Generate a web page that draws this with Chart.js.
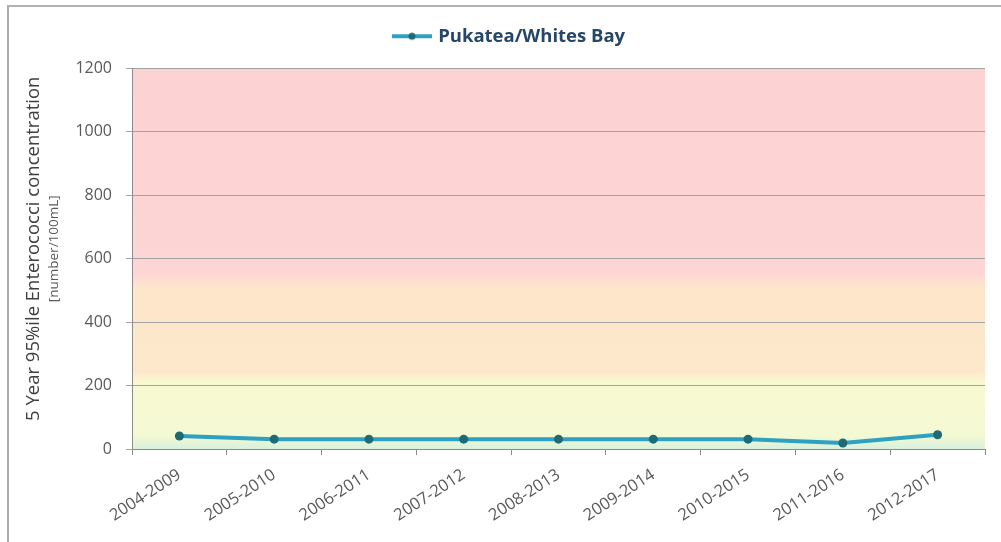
<!DOCTYPE html>
<html>
<head>
<meta charset="utf-8">
<script src="https://cdn.jsdelivr.net/npm/chart.js@4/dist/chart.umd.min.js"></script>
<style>
  html, body { margin: 0; padding: 0; background: #fff; }
  #wrap { position: relative; width: 1001px; height: 542px; overflow: hidden; }
  #chart { position: absolute; left: 0; top: 0; }
  #frame {
    position: absolute; left: 7px; top: 5px; width: 1000px; height: 535px;
    border-left: 2px solid #ababab; border-top: 2px solid #b3b3b3; border-bottom: 1px solid #dcdcdc;
    pointer-events: none;
  }
</style>
</head>
<body>
<div id="wrap">
  <canvas id="chart" width="1001" height="542"></canvas>
  <div id="frame"></div>
</div>
<script>
// 5 year rolling periods and the 95th percentile Enterococci values
const periods = ['2004-2009', '2005-2010', '2006-2011', '2007-2012', '2008-2013',
                 '2009-2014', '2010-2015', '2011-2016', '2012-2017'];
const enterococci = [41, 31, 31, 31, 31, 31, 31, 19, 45];
const siteName = 'Pukatea/Whites Bay';

// y axis range and the guideline band edges (number/100mL)
const yMin = 0;
const yMax = 1200;
const yStep = 200;
const bandEdges = [0, 40, 225, 530, 1200];

const yTitle = '5 Year 95%ile Enterococci concentration';
const ySubTitle = '[number/100mL]';

const lineColour = '#2ea0c1';
const dotColour = '#1e6b76';

// legend marker: short line with a dot in the middle
function legendMarker() {
  const c = document.createElement('canvas');
  c.width = 40;
  c.height = 10;
  const g = c.getContext('2d');
  g.strokeStyle = lineColour;
  g.lineWidth = 4;
  g.beginPath();
  g.moveTo(0, 5);
  g.lineTo(40, 5);
  g.stroke();
  g.fillStyle = dotColour;
  g.beginPath();
  g.arc(20, 5, 3.5, 0, Math.PI * 2);
  g.fill();
  return c;
}

// shaded guideline bands behind the plot
const bandBackground = {
  id: 'bandBackground',
  beforeDraw(chart) {
    const { ctx, chartArea, scales } = chart;
    const y = scales.y;
    const bottom = y.getPixelForValue(yMin);
    const top = y.getPixelForValue(yMax);
    const grad = ctx.createLinearGradient(0, bottom, 0, top);
    const stop = v => Math.min(1, Math.max(0, (v - yMin) / (yMax - yMin)));
    grad.addColorStop(stop(bandEdges[0]), '#d8f1dc');
    grad.addColorStop(stop(bandEdges[1]), '#f3f9d3');
    grad.addColorStop(stop(bandEdges[2] - 15), '#f8fad0');
    grad.addColorStop(stop(bandEdges[2] + 15), '#fde8cc');
    grad.addColorStop(stop(bandEdges[3] - 25), '#fde6c9');
    grad.addColorStop(stop(bandEdges[3] + 25), '#fdd5d5');
    grad.addColorStop(stop(bandEdges[4]), '#fdd2d2');
    ctx.save();
    ctx.fillStyle = grad;
    ctx.fillRect(chartArea.left, top, chartArea.right - chartArea.left, bottom - top);
    ctx.restore();
  }
};

// two-line rotated y axis title, second line smaller
const yAxisTitle = {
  id: 'yAxisTitle',
  afterDraw(chart) {
    const { ctx, chartArea } = chart;
    const cy = (chartArea.top + chartArea.bottom) / 2 - 10;
    ctx.save();
    ctx.textAlign = 'center';
    ctx.textBaseline = 'middle';
    ctx.translate(34, cy);
    ctx.rotate(-Math.PI / 2);
    ctx.fillStyle = '#404040';
    ctx.font = '18.5px "Open Sans"';
    ctx.fillText(yTitle, 0, 0);
    ctx.fillStyle = '#595959';
    ctx.font = '13.5px "Open Sans"';
    ctx.fillText(ySubTitle, 0, 20);
    ctx.restore();
  }
};

new Chart(document.getElementById('chart'), {
  type: 'line',
  data: {
    labels: periods,
    datasets: [{
      label: siteName,
      data: enterococci,
      borderColor: lineColour,
      backgroundColor: dotColour,
      borderWidth: 4,
      pointRadius: 4.5,
      pointBorderWidth: 0,
      pointBackgroundColor: dotColour,
      tension: 0
    }]
  },
  options: {
    responsive: false,
    animation: false,
    layout: { padding: { left: 35, right: 16, top: 17, bottom: 0 } },
    plugins: {
      legend: {
        position: 'top',
        labels: {
          usePointStyle: true,
          pointStyle: legendMarker(),
          pointStyleWidth: 34,
          padding: 10,
          color: '#264769',
          font: { family: 'Open Sans', size: 18.5, weight: 'bold' }
        }
      },
      // spacer between the legend and the plot
      subtitle: {
        display: true,
        text: '',
        position: 'top',
        weight: 500,
        padding: 0,
        font: { size: 13, lineHeight: 1 }
      },
      tooltip: { enabled: false }
    },
    scales: {
      x: {
        offset: true,
        grid: {
          offset: true,
          drawOnChartArea: false,
          drawTicks: true,
          tickLength: 6,
          color: '#8c8c8c'
        },
        border: { display: true, color: '#8c8c8c', width: 1 },
        ticks: {
          color: '#595959',
          font: { family: 'Open Sans', size: 16.5 },
          minRotation: 33,
          maxRotation: 33,
          padding: 10
        },
        afterFit(scale) { scale.height = 93; }
      },
      y: {
        min: yMin,
        max: yMax,
        grid: {
          color: '#a3a3a3',
          lineWidth: 1,
          tickLength: 6
        },
        border: { display: true, color: '#8c8c8c', width: 1 },
        ticks: {
          stepSize: yStep,
          color: '#595959',
          font: { family: 'Open Sans', size: 16 },
          padding: 14,
          callback: v => String(v)
        },
        afterFit(scale) { scale.width = 97; }
      }
    }
  },
  plugins: [bandBackground, yAxisTitle]
});
</script>
</body>
</html>
